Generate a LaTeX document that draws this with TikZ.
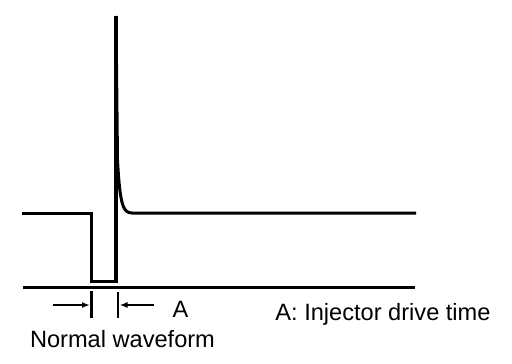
\documentclass[tikz,border=0pt]{standalone}
\usepackage{fontspec}
\setmainfont{Liberation Sans}
\usetikzlibrary{arrows.meta}
\begin{document}
\begin{tikzpicture}[x=1pt,y=-1pt,
  wave/.style={line width=3pt,line join=miter},
  tickline/.style={line width=2.6pt},
  dimarrow/.style={line width=2pt,-{Latex[length=8pt,width=6pt]}},
  lbl/.style={font=\fontsize{23.6}{28}\selectfont,inner sep=0pt}]
\useasboundingbox (0,0) rectangle (512,364);
% waveform
\coordinate (w0) at (22,213);
\coordinate (w1) at (91,213);
\coordinate (w2) at (91,281);
\coordinate (w3) at (116,281);
\coordinate (w4) at (116,16);
\coordinate (w5) at (117.5,160);
\coordinate (w6) at (132,213);
\coordinate (w7) at (416,213);
\draw[wave] (w0) -- (w1) -- (w2) -- (w3) -- (w4);
\draw[line width=3.6pt] (w3) -- (w4);
\draw[wave] (w4) -- (w5) .. controls (120,205) and (123,213) .. (w6) -- (w7);
% baseline
\coordinate (b0) at (23,287);
\coordinate (b1) at (415,287);
\draw[wave] (b0) -- (b1);
% ticks
\coordinate (t1a) at (91.5,291);
\coordinate (t1b) at (91.5,318);
\coordinate (t2a) at (118,292);
\coordinate (t2b) at (118,318);
\draw[tickline] (t1a) -- (t1b);
\draw[tickline] (t2a) -- (t2b);
% dimension arrows
\coordinate (a1s) at (53,305);
\coordinate (a1e) at (90,305);
\coordinate (a2s) at (154,305);
\coordinate (a2e) at (119.5,305);
\draw[dimarrow] (a1s) -- (a1e);
\draw[dimarrow] (a2s) -- (a2e);
% labels
\node[lbl] (A) at (180.5,309.5) {A};
\node[lbl] (nw) at (122.5,339.5) {Normal waveform};
\node[lbl] (legend) at (383,314.5) {A: Injector drive time};
\end{tikzpicture}
\end{document}
